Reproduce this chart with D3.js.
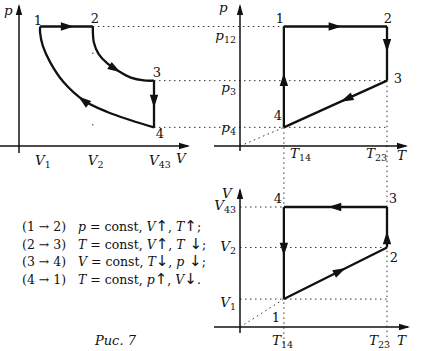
<!DOCTYPE html>
<html>
<head>
<meta charset="utf-8">
<script src="https://cdn.jsdelivr.net/npm/d3@7"></script>
<style>
  body { margin: 0; background: #fff; }
  text { font-family: "DejaVu Serif", "Liberation Serif", serif; fill: #111; }
</style>
</head>
<body>
<div id="container"></div>
<script>
let w = 426;
let h = 351;

// state values (arbitrary units)
let pVals = [6.4, 3.5, 1];        // p12, p3, p4
let pNames = ["12", "3", "4"];
let vVals = [1, 3.5, 6.4];        // V1, V2, V43 on the p-V plot
let vNames = ["1", "2", "43"];
let tVals = [1, 3.35];            // T14, T23
let tNames = ["14", "23"];
let vtVals = [1, 2.85, 4.3];      // V1, V2, V43 on the V-T plot
// points read along the two curves of the p-V plot, [V, p]
let curve23 = [[3.5, 6.4], [3.55, 5.54], [3.77, 4.94], [4.2, 4.41], [4.68, 4.04], [5.3, 3.66], [5.92, 3.51], [6.4, 3.5]];
let curve41 = [[6.4, 1], [5.3, 1.38], [4.19, 1.82], [3.07, 2.44], [2.12, 3.41], [1.48, 4.48], [1.13, 5.36], [1.0, 6.07], [1, 6.4]];
let rules = [
  ["(1 \u2192 2)", "p", " = const, ", "V", "\u2191", ", ", "T", "\u2191", ";"],
  ["(2 \u2192 3)", "T", " = const, ", "V", "\u2191", ", ", "T", " \u2193", ";"],
  ["(3 \u2192 4)", "V", " = const, ", "T", "\u2193", ", ", "p", " \u2193", ";"],
  ["(4 \u2192 1)", "T", " = const, ", "p", "\u2191", ", ", "V", "\u2193", "."]
];

let viz = d3.select("#container")
  .append("svg")
    .attr("width", w)
    .attr("height", h)
    .style("background-color", "#fff");

let yP = d3.scaleLinear().domain([0, 6.4]).range([146, 26.5]);
let xV = d3.scaleLinear().domain([0, 6.4]).range([19, 154]);
let xT = d3.scaleLinear().domain([0, 3.35]).range([240, 387]);
let yVT = d3.scaleLinear().domain([0, 4.3]).range([327, 207]);

let ink = "#111";

function dotted(x1, y1, x2, y2, dash) {
  viz.append("line")
    .attr("x1", x1).attr("y1", y1).attr("x2", x2).attr("y2", y2)
    .attr("stroke", "#333").attr("stroke-width", 1)
    .attr("stroke-dasharray", dash || "1.5,3.5");
}

// axis with arrow head
function axisLine(x1, y1, x2, y2) {
  viz.append("line")
    .attr("x1", x1).attr("y1", y1).attr("x2", x2).attr("y2", y2)
    .attr("stroke", ink).attr("stroke-width", 1.5);
  let a = Math.atan2(y2 - y1, x2 - x1);
  head(x2 + Math.cos(a) * 2, y2 + Math.sin(a) * 2, a, 11, 3.2);
}

function head(x, y, a, len, half) {
  let bx = x - Math.cos(a) * len, by = y - Math.sin(a) * len;
  let nx = -Math.sin(a) * half, ny = Math.cos(a) * half;
  viz.append("path")
    .attr("d", "M" + x + "," + y + "L" + (bx + nx) + "," + (by + ny) +
      "L" + (bx - nx) + "," + (by - ny) + "Z")
    .attr("fill", ink);
}

function process(pts, curve, frac) {
  let line = d3.line().curve(curve || d3.curveLinear);
  let p = viz.append("path")
    .attr("d", line(pts))
    .attr("fill", "none")
    .attr("stroke", ink)
    .attr("stroke-width", 2.3);
  let node = p.node();
  let L = node.getTotalLength();
  let a = node.getPointAtLength(L * frac - 2);
  let b = node.getPointAtLength(L * frac);
  head(b.x, b.y, Math.atan2(b.y - a.y, b.x - a.x), 13, 4.2);
}

function sub(x, y, main, s, anchor) {
  let t = viz.append("text")
    .attr("x", x).attr("y", y)
    .attr("text-anchor", anchor || "start")
    .style("font-size", "13.5px");
  t.append("tspan").text(main).style("font-style", "italic");
  if (s) t.append("tspan").text(s).attr("dy", 3).style("font-size", "9.5px");
  return t;
}

function num(x, y, s) {
  viz.append("text").attr("x", x).attr("y", y)
    .attr("text-anchor", "middle").style("font-size", "13px").text(s);
}

// ---------- guide lines ----------
dotted(xV(vVals[1]), yP(pVals[0]), xT(tVals[0]), yP(pVals[0]));
dotted(xV(vVals[2]), yP(pVals[1]), xT(tVals[1]), yP(pVals[1]));
dotted(xV(vVals[2]), yP(pVals[2]), xT(tVals[1]), yP(pVals[2]));
dotted(xV(vVals[1]), yP(pVals[0]) + 26, xV(vVals[1]), 146, "1.5,70");
dotted(xT(0), yP(0), xT(tVals[0]), yP(pVals[2]));
dotted(xT(tVals[1]), yP(pVals[1]), xT(tVals[1]), 345);
dotted(xT(tVals[0]), yP(pVals[2]), xT(tVals[0]), 345);
dotted(xT(0), yVT(vtVals[2]), xT(tVals[0]), yVT(vtVals[2]));
dotted(xT(0), yVT(vtVals[1]), xT(tVals[1]), yVT(vtVals[1]));
dotted(xT(0), yVT(vtVals[0]), xT(tVals[1]), yVT(vtVals[0]));
dotted(xT(0), yVT(0), xT(tVals[0]), yVT(vtVals[0]));

// ---------- axes ----------
axisLine(0, yP(0), 188, yP(0));
axisLine(xV(0), 153, xV(0), 6);
axisLine(214, yP(0), 406, yP(0));
axisLine(xT(0), 151, xT(0), 6);
axisLine(214, yVT(0), 408, yVT(0));
axisLine(xT(0), 333, xT(0), 190);

// ---------- p-V ----------
let cr = d3.curveCatmullRom.alpha(0.5);
process([[xV(vVals[0]), yP(pVals[0])], [xV(vVals[1]), yP(pVals[0])]], null, 0.64);
process(curve23.map(d => [xV(d[0]), yP(d[1])]), cr, 0.62);
process([[xV(vVals[2]), yP(pVals[1])], [xV(vVals[2]), yP(pVals[2])]], null, 0.58);
process(curve41.map(d => [xV(d[0]), yP(d[1])]), cr, 0.5);

// ---------- p-T ----------
process([[xT(tVals[0]), yP(pVals[0])], [xT(tVals[1]), yP(pVals[0])]], null, 0.56);
process([[xT(tVals[1]), yP(pVals[0])], [xT(tVals[1]), yP(pVals[1])]], null, 0.47);
process([[xT(tVals[1]), yP(pVals[1])], [xT(tVals[0]), yP(pVals[2])]], null, 0.45);
process([[xT(tVals[0]), yP(pVals[2])], [xT(tVals[0]), yP(pVals[0])]], null, 0.54);

// ---------- V-T ----------
process([[xT(tVals[0]), yVT(vtVals[0])], [xT(tVals[1]), yVT(vtVals[1])]], null, 0.6);
process([[xT(tVals[1]), yVT(vtVals[1])], [xT(tVals[1]), yVT(vtVals[2])]], null, 0.4);
process([[xT(tVals[1]), yVT(vtVals[2])], [xT(tVals[0]), yVT(vtVals[2])]], null, 0.57);
process([[xT(tVals[0]), yVT(vtVals[2])], [xT(tVals[0]), yVT(vtVals[0])]], null, 0.53);

// ---------- labels ----------
sub(4, 15, "p");
num(38, 25, "1"); num(95, 23, "2"); num(157, 77, "3"); num(160, 138, "4");
vVals.forEach((v, i) => sub(xV(v) - 5, 165, "V", vNames[i]));
sub(176, 163, "V");

sub(219, 12, "p");
let pOff = [13, 11, 5];
pVals.forEach((p, i) => sub(236, yP(p) + pOff[i], "p", pNames[i], "end"));
num(280, 23, "1"); num(388, 23, "2"); num(398, 83, "3"); num(278, 120, "4");
let tOff1 = [6, -21];
tVals.forEach((t, i) => sub(xT(t) + tOff1[i], 158, "T", tNames[i]));
sub(397, 160, "T");

sub(222, 198, "V");
let vtOff = [8, 4, 3];
vtVals.forEach((v, i) => sub(236, yVT(v) + vtOff[i], "V", vNames[i], "end"));
num(278, 203, "4"); num(393, 203, "3"); num(394, 262, "2"); num(276, 322, "1");
let tOff2 = [-12, -18];
tVals.forEach((t, i) => sub(xT(t) + tOff2[i], 345, "T", tNames[i]));
sub(397, 345, "T");

// ---------- rules ----------
let arrowSet = ["\u2191", "\u2193", " \u2193"];
rules.forEach((r, i) => {
  let y = 231 + i * 17.5;
  viz.append("text").attr("x", 22).attr("y", y).style("font-size", "12.5px").text(r[0]);
  let t = viz.append("text").attr("x", 78).attr("y", y).style("font-size", "12.5px");
  r.slice(1).forEach((s, j) => {
    let sp = t.append("tspan").text(s);
    if (arrowSet.includes(s)) {
      sp.style("font-size", "15px").style("font-family", "'DejaVu Sans', sans-serif");
    } else if (j === 0 || j === 2 || j === 5) {
      sp.style("font-style", "italic");
    }
  });
});

viz.append("text").attr("x", 95).attr("y", 345)
  .style("font-size", "13px").style("font-style", "italic").text("\u0420\u0438\u0441. 7");
</script>
</body>
</html>
